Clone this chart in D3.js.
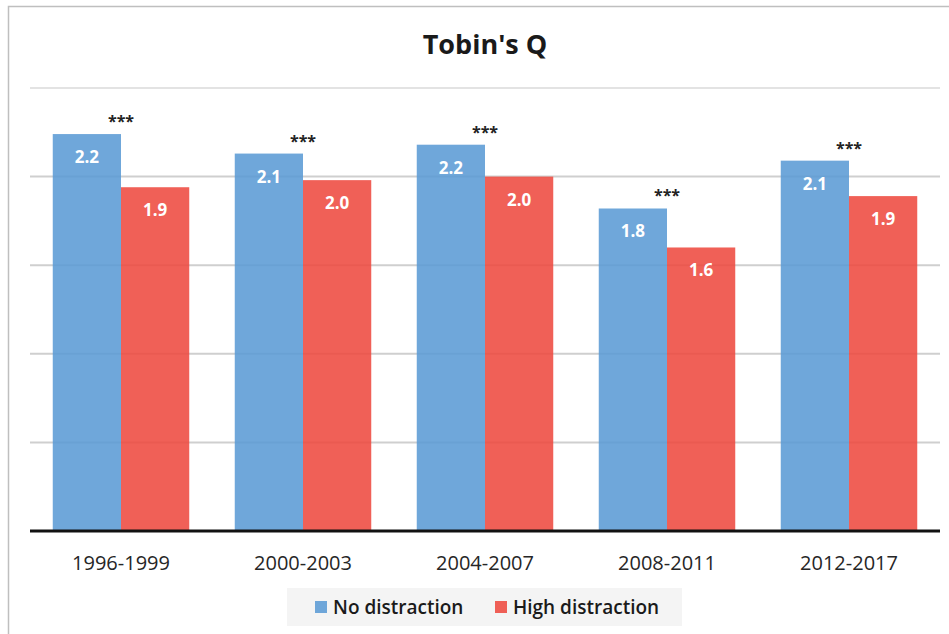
<!DOCTYPE html>
<html>
<head>
<meta charset="utf-8">
<script src="https://cdn.jsdelivr.net/npm/d3@7"></script>
<style>
  body { margin: 0; background: #fff; }
  svg { display: block; font-family: "Open Sans", sans-serif; }
</style>
</head>
<body>
<svg width="949" height="634"></svg>
<script>
// data
let periods = ["1996-1999", "2000-2003", "2004-2007", "2008-2011", "2012-2017"];
let seriesNames = ["No distraction", "High distraction"];
let noDistraction = [2.24, 2.13, 2.18, 1.82, 2.09];
let highDistraction = [1.94, 1.98, 2.00, 1.60, 1.89];
let stars = ["***", "***", "***", "***", "***"];
let gridTicks = [0.5, 1, 1.5, 2, 2.5];

(function() {
    'use strict';
    let svg = d3.select("svg");
    let plotLeft = 30, plotRight = 940, plotTop = 88, plotBottom = 531;
    let colors = ["#5b9bd5", "#ee4a40"];

    // chart frame (right/bottom edges fall outside the picture)
    svg.append("rect")
        .attr("x", 8.5).attr("y", 6.5)
        .attr("width", 1000).attr("height", 1000)
        .attr("fill", "none").attr("stroke", "#bfbfbf").attr("stroke-width", 1.5);

    let x = d3.scaleBand().domain(periods).range([plotLeft, plotRight]).paddingInner(0.25).paddingOuter(0.125);
    let xSub = d3.scaleBand().domain(seriesNames).range([0, x.bandwidth()]);
    let y = d3.scaleLinear().domain([0, 2.5]).range([plotBottom, plotTop]);

    // gridlines
    svg.append("g")
        .selectAll("line")
        .data(gridTicks)
        .join("line")
        .attr("x1", plotLeft).attr("x2", plotRight)
        .attr("y1", d => y(d)).attr("y2", d => y(d))
        .attr("stroke", (d, i) => i === gridTicks.length - 1 ? "#e3e3e3" : "#cfcfcf")
        .attr("stroke-width", 2);

    // title
    svg.append("text")
        .attr("x", (plotLeft + plotRight) / 2).attr("y", 54)
        .attr("text-anchor", "middle")
        .style("font-size", "27px").style("font-weight", "bold")
        .attr("fill", "#1a1a1a")
        .text("Tobin's Q");

    let rows = periods.map((p, i) => ({ period: p, values: [noDistraction[i], highDistraction[i]], star: stars[i] }));

    let groups = svg.append("g")
        .selectAll("g")
        .data(rows)
        .join("g")
        .attr("transform", d => `translate(${x(d.period)},0)`);

    groups.selectAll("rect")
        .data(d => d.values.map((v, j) => ({ name: seriesNames[j], value: v, j: j })))
        .join("rect")
        .attr("x", d => xSub(d.name))
        .attr("y", d => y(d.value))
        .attr("width", xSub.bandwidth())
        .attr("height", d => y(0) - y(d.value))
        .attr("fill", d => colors[d.j])
        .attr("fill-opacity", 0.88);

    // value labels inside the bars
    groups.selectAll("text.val")
        .data(d => d.values.map((v, j) => ({ name: seriesNames[j], value: v })))
        .join("text")
        .attr("class", "val")
        .attr("x", d => xSub(d.name) + xSub.bandwidth() / 2)
        .attr("y", d => y(d.value) + 29)
        .attr("text-anchor", "middle")
        .attr("fill", "#fff")
        .style("font-size", "17px").style("font-weight", "bold")
        .text(d => d3.format(".1f")(d.value));

    // significance stars, centred on the group, above the blue bar
    groups.append("text")
        .attr("x", x.bandwidth() / 2)
        .attr("y", d => y(d.values[0]) - 7)
        .attr("text-anchor", "middle")
        .attr("fill", "#222")
        .style("font-size", "16px").style("font-weight", "bold")
        .text(d => d.star);

    // baseline and category labels
    svg.append("line")
        .attr("x1", plotLeft).attr("x2", plotRight)
        .attr("y1", y(0)).attr("y2", y(0))
        .attr("stroke", "#111").attr("stroke-width", 3);

    let xAxis = d3.axisBottom(x).tickSize(0).tickPadding(0);
    let ax = svg.append("g").attr("transform", `translate(0,${y(0)})`).call(xAxis);
    ax.select(".domain").remove();
    ax.selectAll("text")
        .attr("dy", null)
        .attr("y", 39)
        .attr("fill", "#262626")
        .style("font-size", "20px")
        .style("font-family", "'Open Sans', sans-serif");

    // legend
    let legend = svg.append("g");
    legend.append("rect")
        .attr("x", 287).attr("y", 588).attr("width", 395).attr("height", 38)
        .attr("fill", "#f4f4f4");
    let legendX = [315, 495];
    seriesNames.forEach((name, i) => {
        legend.append("rect")
            .attr("x", legendX[i]).attr("y", 601).attr("width", 12).attr("height", 12)
            .attr("fill", colors[i]).attr("fill-opacity", 0.88);
        legend.append("text")
            .attr("x", legendX[i] + 18).attr("y", 614)
            .attr("fill", "#1a1a1a")
            .style("font-size", "19px").style("font-weight", 600)
            .text(name);
    });
})();
</script>
</body>
</html>
